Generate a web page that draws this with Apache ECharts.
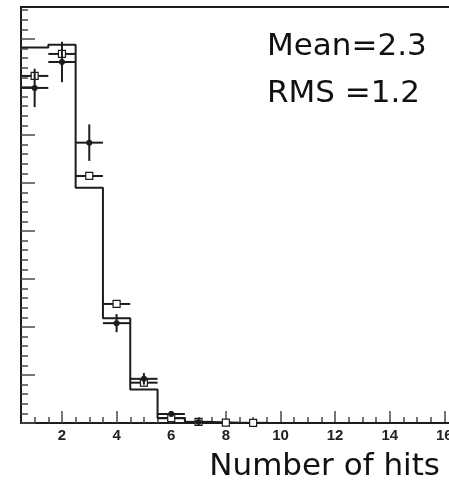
<!DOCTYPE html>
<html><head><meta charset="utf-8">
<script src="https://cdn.jsdelivr.net/npm/echarts@6/dist/echarts.min.js"></script>
<style>html,body{margin:0;padding:0;background:#fff}#c{width:449px;height:489px}</style>
</head><body><div id="c"></div>
<script>
// Hit multiplicity: reference histogram with two measured samples on top
const binEdges = [0.5,1.5,2.5,3.5,4.5,5.5,6.5,7.5,8.5,9.5,10.5,11.5,12.5,13.5,14.5,15.5,16.5];
const histValues = [0.391,0.394,0.245,0.109,0.035,0.005,0.001,0,0,0,0,0,0,0,0,0];

const openHits = [1,2,3,4,5,6,7,8,9];
const openValues = [0.3615,0.3844,0.2573,0.124,0.042,0.0052,0.0012,0.0003,0.0002];
const openErrors = [0.003,0.003,0.003,0.002,0.0015,0.001,0.0005,0.0003,0.0002];

const filledHits = [1,2,3,4,5,6,7];
const filledValues = [0.349,0.376,0.292,0.104,0.046,0.0094,0.001];
const filledErrors = [0.020,0.021,0.019,0.0094,0.006,0.003,0.001];

const statLines = ['Mean=2.3', 'RMS =1.2'];
const xTitle = 'Number of hits';
const xMajorTicks = [2,4,6,8,10,12,14,16];
const xMinorTicks = [1,1.5,2.5,3,3.5,4.5,5,5.5,6.5,7,7.5,8.5,9,9.5,10.5,11,11.5,12.5,13,13.5,14.5,15,15.5,16.5];
const yMajorTicks = [0,0.05,0.1,0.15,0.2,0.25,0.3,0.35,0.4];
const yMinorTicks = [];
for (let i = 1; i <= 43; i++) if (i % 5) yMinorTicks.push(+(i * 0.01).toFixed(2));

const X_MIN = 0.5, X_MAX = 16.5, Y_MAX = 0.4333;
const INK = '#1c1c1c';
const TICK = '#4a4a4a';

const histData = binEdges.map((e, i) => [e, histValues[Math.min(i, histValues.length - 1)]]);
const openData = openHits.map((h, i) => [h, openValues[i], openErrors[i]]);
const filledData = filledHits.map((h, i) => [h, filledValues[i], filledErrors[i]]);

function errorBars(kind) {
  return function (params, api) {
    const x = api.value(0), y = api.value(1), e = api.value(2);
    const l = api.coord([x - 0.5, y]), r = api.coord([x + 0.5, y]);
    const t = api.coord([x, y + e]), b = api.coord([x, y - e]);
    const c = api.coord([x, y]);
    const ls = { stroke: INK, lineWidth: 2 };
    const children = [
      { type: 'line', shape: { x1: l[0], y1: l[1], x2: r[0], y2: r[1] }, style: ls },
      { type: 'line', shape: { x1: t[0], y1: t[1], x2: b[0], y2: b[1] }, style: ls }
    ];
    if (kind === 'open') {
      children.push({ type: 'rect', shape: { x: c[0] - 3.5, y: c[1] - 3.5, width: 7, height: 7 },
        style: { fill: '#fff', stroke: INK, lineWidth: 1.2 } });
    } else {
      children.push({ type: 'circle', shape: { cx: c[0], cy: c[1], r: 3 }, style: { fill: INK } });
    }
    return { type: 'group', children };
  };
}

function xAxisDef(ticks, len, labels) {
  return {
    type: 'value', min: X_MIN, max: X_MAX, position: 'bottom',
    axisLine: { show: true, lineStyle: { color: INK, width: 2 } },
    axisTick: { show: true, inside: true, length: len, customValues: ticks, lineStyle: { color: TICK, width: 1.5 } },
    axisLabel: labels ? { show: true, customValues: ticks, margin: 5, color: '#222', fontSize: 15,
      fontWeight: 'bold', fontFamily: 'Liberation Sans, Arial, sans-serif', hideOverlap: false } : { show: false },
    splitLine: { show: false }
  };
}
function yAxisDef(ticks, len) {
  return {
    type: 'value', min: 0, max: Y_MAX, position: 'left', offset: 0,
    axisLine: { show: true, lineStyle: { color: INK, width: 2 } },
    axisTick: { show: true, inside: true, length: len, customValues: ticks, lineStyle: { color: TICK, width: 1.5 } },
    axisLabel: { show: false },
    splitLine: { show: false }
  };
}

const chart = echarts.init(document.getElementById('c'), null, { renderer: 'canvas' });
chart.setOption({
  animation: false,
  backgroundColor: '#fff',
  grid: { left: 21, width: 437, top: 7, height: 416, containLabel: false, outerBoundsMode: 'none',
    show: true, borderColor: INK, borderWidth: 2, backgroundColor: 'transparent' },
  xAxis: [xAxisDef(xMajorTicks, 12, true), xAxisDef(xMinorTicks, 6, false)],
  yAxis: [yAxisDef(yMajorTicks, 14), yAxisDef(yMinorTicks, 7)],
  series: [
    { type: 'line', step: 'end', data: histData, symbol: 'none', xAxisIndex: 0, yAxisIndex: 0,
      lineStyle: { color: INK, width: 2 }, z: 2 },
    { type: 'custom', data: openData, renderItem: errorBars('open'), clip: false, z: 3,
      encode: { x: 0, y: 1 } },
    { type: 'custom', data: filledData, renderItem: errorBars('filled'), clip: false, z: 4,
      encode: { x: 0, y: 1 } }
  ],
  graphic: [
    { type: 'text', left: 267, top: 31, style: { text: statLines[0], fill: '#111',
      font: '31px "DejaVu Sans", sans-serif' } },
    { type: 'text', left: 267, top: 78, style: { text: statLines[1], fill: '#111',
      font: '31px "DejaVu Sans", sans-serif' } },
    { type: 'text', right: 9, top: 451, style: { text: xTitle, fill: '#111',
      font: '31px "DejaVu Sans", sans-serif' } }
  ]
});
</script></body></html>
